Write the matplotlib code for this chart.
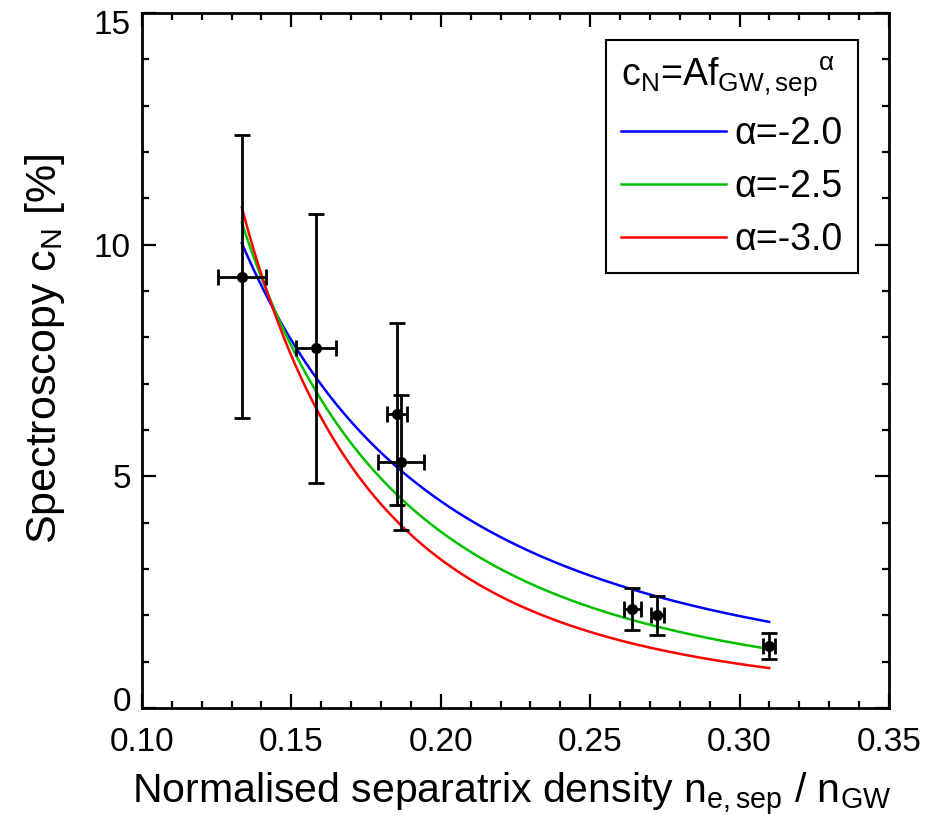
import numpy as np
import matplotlib.pyplot as plt
from matplotlib.transforms import ScaledTranslation

plt.rcParams['font.family'] = ['Liberation Sans', 'DejaVu Sans']
plt.rcParams['mathtext.fontset'] = 'custom'
plt.rcParams['mathtext.rm'] = 'Liberation Sans'
plt.rcParams['mathtext.it'] = 'Liberation Sans:italic'

f_gw = [0.1334, 0.1582, 0.1853, 0.1867, 0.2641, 0.2725, 0.3099]
f_gw_err = [0.0080, 0.0068, 0.0033, 0.0077, 0.0028, 0.0023, 0.0021]
c_n = [9.31, 7.76, 6.34, 5.30, 2.13, 2.00, 1.34]
c_n_err = [3.05, 2.91, 1.96, 1.45, 0.45, 0.42, 0.28]

# power law fits c_N = A * f^alpha
alphas = [-2.0, -2.5, -3.0]
amps = [0.1786, 0.0681, 0.02566]
fit_colors = ['#0000ff', '#00c000', '#ff0000']
f_fit_range = [0.1334, 0.3099]

xticks = [0.10, 0.15, 0.20, 0.25, 0.30, 0.35]
yticks = [0, 5, 10, 15]

fig = plt.figure(figsize=(9.42, 8.17), dpi=100)
ax = fig.add_axes([0.1507, 0.1334, 0.7930, 0.8506])

f_fit = np.linspace(f_fit_range[0], f_fit_range[1], 200)
for alpha, amp, col in zip(alphas, amps, fit_colors):
    ax.plot(f_fit, amp * f_fit**alpha, color=col, lw=1.8,
            label=f"α={alpha:.1f}")

ax.errorbar(f_gw, c_n, xerr=f_gw_err, yerr=c_n_err, fmt='o', color='k',
            ms=7, elinewidth=2, capsize=6, capthick=2, zorder=5)

ax.set_xlim(0.10, 0.35)
ax.set_ylim(0, 15)
ax.set_xticks(xticks)
ax.set_xticklabels([f"{v:.2f}" for v in xticks])
ax.set_xticks(np.arange(0.10, 0.351, 0.01), minor=True)
ax.set_yticks(yticks)
ax.set_yticks(np.arange(0, 15.1, 1), minor=True)
ax.tick_params(which='both', direction='in', top=True, right=True,
               width=1.6, labelsize=24)
ax.tick_params(axis='x', pad=14)
ax.tick_params(axis='y', pad=8)
ax.tick_params(which='major', length=10)
ax.tick_params(which='minor', length=5)
for sp in ax.spines.values():
    sp.set_linewidth(2)

# IDL-style: end labels nudged inside the axis range
ylabs = ax.get_yticklabels()
ylabs[0].set_transform(ylabs[0].get_transform() + ScaledTranslation(0, 9 / 100, fig.dpi_scale_trans))
ylabs[-1].set_transform(ylabs[-1].get_transform() + ScaledTranslation(0, -9 / 100, fig.dpi_scale_trans))

ax.set_xlabel(r"Normalised separatrix density n$_{\mathrm{e,sep}}$ / n$_{\mathrm{GW}}$",
              fontsize=29.5)
ax.set_ylabel(r"Spectroscopy c$_{\mathrm{N}}$ [%]", fontsize=31)
ax.xaxis.set_label_coords(0.495, -0.09)
ax.yaxis.set_label_coords(-0.100, 0.517)

leg = ax.legend(loc='upper right', bbox_to_anchor=(0.958, 0.961),
                title=r"c$_{\mathrm{N}}$=Af$_{\mathrm{GW,sep}}$$^{\mathrm{α}}$",
                fontsize=27, title_fontsize=27, fancybox=False, framealpha=1,
                edgecolor='k', handlelength=2.8, handletextpad=0.22,
                borderaxespad=0, labelspacing=0.45, borderpad=0.4)
leg.get_frame().set_linewidth(1.5)
leg._legend_box.align = "left"

fig.savefig("out.png", dpi=100)
